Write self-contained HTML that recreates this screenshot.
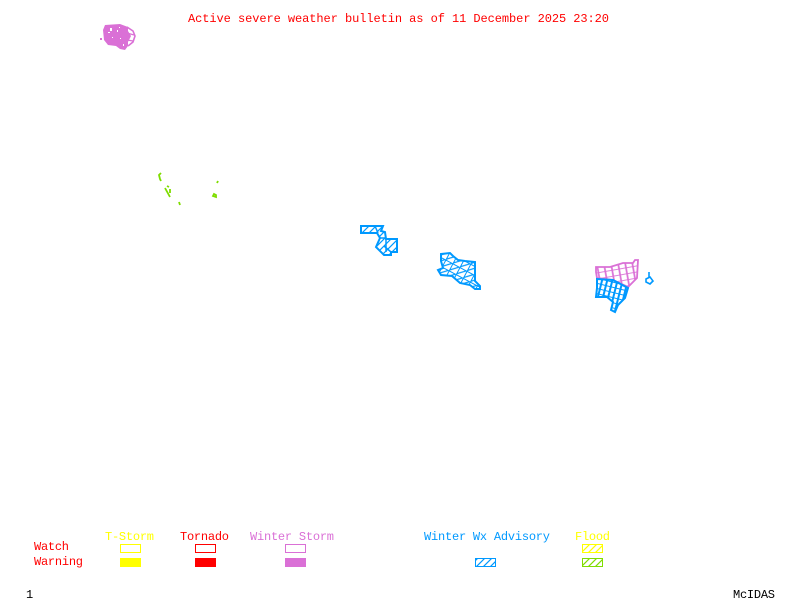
<!DOCTYPE html>
<html><head><meta charset="utf-8"><title>Active severe weather bulletin</title>
<style>html,body{margin:0;padding:0;background:#fff;width:800px;height:600px;overflow:hidden}svg{display:block}text{font-family:"Liberation Mono",monospace;font-size:12px}</style></head>
<body>
<svg width="800" height="600" viewBox="0 0 800 600" xmlns="http://www.w3.org/2000/svg">
<defs>
<pattern id="hb" width="7" height="7" patternUnits="userSpaceOnUse"><path d="M-1 8L8 -1M-1 1L1 -1M6 8L8 6" stroke="#0099ff" stroke-width="1.2" fill="none"/></pattern>
<pattern id="hy" width="7" height="7" patternUnits="userSpaceOnUse"><path d="M-1 8L8 -1M-1 1L1 -1M6 8L8 6" stroke="#ffff00" stroke-width="1.2" fill="none"/></pattern>
<pattern id="hg" width="7" height="7" patternUnits="userSpaceOnUse"><path d="M-1 8L8 -1M-1 1L1 -1M6 8L8 6" stroke="#7fdd00" stroke-width="1.2" fill="none"/></pattern>
<pattern id="cell" width="8" height="8" patternUnits="userSpaceOnUse" patternTransform="rotate(28 440 253)"><path d="M0 0H8M0 0V8" stroke="#0099ff" stroke-width="2" fill="none"/><path d="M0 8L8 0" stroke="#0099ff" stroke-width="1.2" fill="none"/></pattern>
<pattern id="cellb" width="5" height="5" patternUnits="userSpaceOnUse" patternTransform="rotate(14)"><path d="M0 0H5M2 0V5" stroke="#0099ff" stroke-width="2" fill="none"/></pattern>
<pattern id="cellm" width="7" height="6" patternUnits="userSpaceOnUse" patternTransform="rotate(-10)"><path d="M0 0H7M3 0V6" stroke="#da70d6" stroke-width="1.7" fill="none"/></pattern>
</defs>

<text x="188" y="22" fill="#ff0000" textLength="421" lengthAdjust="spacing">Active severe weather bulletin as of 11 December 2025 23:20</text>

<!-- Orchid winter storm blob -->
<path d="M105 25L120 24L128 27L128 31L131 36L128 42L128 46L125 50L120 49L116 46L108 45L104 40L103 30Z" fill="#da70d6"/>
<path d="M127 27L133 31L135 36L133 42L128 46" fill="none" stroke="#da70d6" stroke-width="1.6"/>
<path d="M127 33L134 35M127 40L133 41" fill="none" stroke="#da70d6" stroke-width="1.2"/>
<rect x="100" y="38" width="2" height="2" fill="#da70d6"/>
<g fill="#fff" shape-rendering="crispEdges">
<rect x="110" y="28" width="2" height="3"/><rect x="108" y="32" width="2" height="1"/><rect x="117" y="30" width="1" height="2"/><rect x="119" y="27" width="1" height="1"/><rect x="120" y="38" width="1" height="1"/><rect x="112" y="37" width="1" height="1"/><rect x="123" y="44" width="1" height="2"/>
</g>

<!-- Green flood pieces -->
<g fill="none" stroke="#7fdd00" stroke-width="1.8">
<path d="M161 173L159 175L160 179L161 181"/>
<path d="M165 188L170 197M167 186L169 187M170 189L170 193"/>
<path d="M179 202L180 205"/>
<path d="M218 181L217 183"/>
<path d="M214 194L213 196L216 197L216 195Z"/>
</g>

<!-- Blue region 1 -->
<path d="M361 226H383L381 231L385 232L386 239H397V252H391V255H384L376 247L380 238L377 233H361Z" fill="url(#hb)" stroke="#0099ff" stroke-width="2"/>
<path d="M375 226L378 233M380 238H386M384 246L391 252M386 240V252" fill="none" stroke="#0099ff" stroke-width="1.5"/>

<!-- Blue region 2 -->
<path d="M441 254L450 253L453 256L458 260L465 261L475 262V281L480 286V289H475L470 285L460 283L452 276L441 275L438 270L443 268L441 261Z" fill="url(#cell)" stroke="#0099ff" stroke-width="2"/>

<!-- Orchid / blue region 3 -->
<path d="M596 267L610 267L623 263L633 263L635 260L638 260L637 278L628 287L613 280L597 278L596 272Z" fill="url(#cellm)" stroke="#da70d6" stroke-width="1.8"/>
<path d="M597 279L613 280L628 288L625 298L618 305L615 312L611 310L613 302L607 297L596 297L597 288Z" fill="url(#cellb)" stroke="#0099ff" stroke-width="2"/>
<path d="M649 272V279" fill="none" stroke="#0099ff" stroke-width="1.6"/>
<path d="M646 279L650 277L653 281L650 284L646 282Z" fill="#fff" stroke="#0099ff" stroke-width="1.6"/>

<!-- Legend labels -->
<text x="105" y="540" fill="#ffff00" textLength="49">T-Storm</text>
<text x="180" y="540" fill="#ff0000" textLength="49">Tornado</text>
<text x="250" y="540" fill="#da70d6" textLength="84">Winter Storm</text>
<text x="424" y="540" fill="#0099ff" textLength="126">Winter Wx Advisory</text>
<text x="575" y="540" fill="#ffff00" textLength="35">Flood</text>
<text x="34" y="550" fill="#ff0000" textLength="35">Watch</text>
<text x="34" y="565" fill="#ff0000" textLength="49">Warning</text>
<text x="26" y="598" fill="#000" textLength="7">1</text>
<text x="733" y="598" fill="#000" textLength="42">McIDAS</text>

<!-- Legend swatches -->
<g shape-rendering="crispEdges" stroke-width="1">
<rect x="120.500" y="544.500" width="20" height="8" fill="none" stroke="#ffff00"/>
<rect x="195.500" y="544.500" width="20" height="8" fill="none" stroke="#ff0000"/>
<rect x="285.500" y="544.500" width="20" height="8" fill="none" stroke="#da70d6"/>
<rect x="120" y="558" width="21" height="9" fill="#ffff00"/>
<rect x="195" y="558" width="21" height="9" fill="#ff0000"/>
<rect x="285" y="558" width="21" height="9" fill="#da70d6"/>
</g>
<rect x="475.500" y="558.500" width="20" height="8" fill="url(#hb)" stroke="#0099ff"/>
<rect x="582.500" y="544.500" width="20" height="8" fill="url(#hy)" stroke="#ffff00"/>
<rect x="582.500" y="558.500" width="20" height="8" fill="url(#hg)" stroke="#7fdd00"/>
</svg>
</body></html>
